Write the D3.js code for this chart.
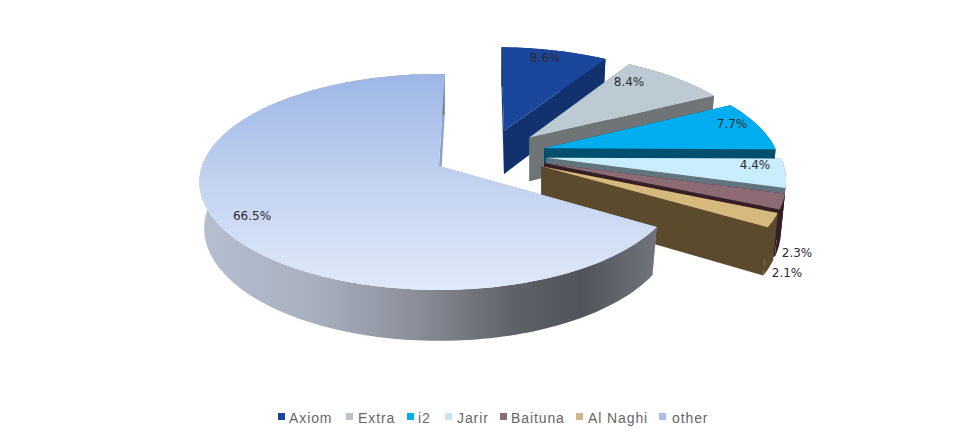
<!DOCTYPE html>
<html>
<head>
<meta charset="utf-8">
<script src="https://cdnjs.cloudflare.com/ajax/libs/d3/7.8.5/d3.min.js"></script>
<style>
  html, body { margin: 0; padding: 0; background: #fff; }
  svg { display: block; }
</style>
</head>
<body>
<svg id="chart" width="973" height="435"></svg>
<script>
// Market share per retailer, in percent
const categories = ["Axiom", "Extra", "i2", "Jarir", "Baituna", "Al Naghi", "other"];
const shares = [8.6, 8.4, 7.7, 4.4, 2.3, 2.1, 66.5];
const shareLabels = ["8.6%", "8.4%", "7.7%", "4.4%", "2.3%", "2.1%", "66.5%"];

// Slice styling: top face and side wall colours
const topColors = ["#1a479c", "#bccbd3", "#00aeef", "#c9eeff", "#8d6b74", "#d6b97c", "url(#otherTop)"];
const wallColors = ["#12326f", "#6f7576", "#004f6e", "#62757c", "#351f26", "#5b4a2c", "url(#otherWall)"];
const startWallColors = ["#12326f", "#6f7576", "#004f6e", "#62757c", "#351f26", "#5b4a2c", "#8aa0cf"];

// Label anchors and legend layout
const labelX = [545, 629, 732, 755, 797, 787, 252];
const labelY = [58, 82, 124, 165, 253, 273, 216];
const legendMarkerX = [278, 346, 407, 445, 500, 576, 659];
const legendTextX = [289, 358, 418, 457, 511, 588, 672];

// Pie geometry, in disc units (1 = radius)
const firstAngle = 1.6 * Math.PI / 180;
const explode = 0.245;
const perspective = 0.148;
const depth = 45.5;
const bottomShrink = 0.98;

const svg = d3.select("#chart");
const defs = svg.append("defs");

const otherTop = defs.append("linearGradient").attr("id", "otherTop")
  .attr("gradientUnits", "userSpaceOnUse")
  .attr("x1", 0).attr("x2", 0).attr("y1", 74).attr("y2", 290);
[[0, "#9db6e6"], [0.45, "#bfd0ef"], [1, "#e0e9f8"]].forEach(([o, c]) =>
  otherTop.append("stop").attr("offset", o).attr("stop-color", c));

const otherWall = defs.append("linearGradient").attr("id", "otherWall")
  .attr("gradientUnits", "userSpaceOnUse")
  .attr("x1", 200).attr("x2", 655).attr("y1", 0).attr("y2", 0);
[[0, "#b5bfd0"], [0.25, "#a8b0bf"], [0.47, "#8b8f9a"], [0.69, "#5f6268"], [0.84, "#50545b"], [1, "#70747b"]]
  .forEach(([o, c]) => otherWall.append("stop").attr("offset", o).attr("stop-color", c));

// Disc coordinates onto the page: a linear map followed by a perspective divide
const xScale = d3.scaleLinear().domain([0, 1]).range([439, 676]);
const yScale = d3.scaleLinear().domain([0, 1]).range([166, 271.6]);

function upper(u, v) {
  const w = 1 - perspective * v;
  return [xScale(u / w), yScale(v / w)];
}

// The underside is slightly smaller and sits lower; it shrinks towards the slice's own apex
function lower(u, v, apex) {
  const w = 1 - perspective * v;
  const [x, y] = upper(u, v);
  const [ax, ay] = upper(apex[0], apex[1]);
  return [
    ax + (x - ax) * bottomShrink,
    ay + (y - ay) * bottomShrink + depth / w
  ];
}

const pie = d3.pie().sort(null).value(d => d)
  .startAngle(firstAngle).endAngle(firstAngle + 2 * Math.PI);
const arcs = pie(shares);

const direction = a => [Math.sin(a), -Math.cos(a)];
const midAngle = a => (a.startAngle + a.endAngle) / 2;

// Every slice moves out along its own bisector; the page origin sits on the largest slice's apex
const anchorDir = direction(midAngle(arcs[arcs.length - 1]));
const line = d3.line();

const slices = arcs.map(a => {
  const dir = direction(midAngle(a));
  const apex = [explode * (dir[0] - anchorDir[0]), explode * (dir[1] - anchorDir[1])];
  const steps = Math.max(8, Math.ceil((a.endAngle - a.startAngle) * 40));
  const rim = d3.range(steps + 1).map(i => {
    const t = a.startAngle + (a.endAngle - a.startAngle) * i / steps;
    const d = direction(t);
    return [apex[0] + d[0], apex[1] + d[1]];
  });
  return { apex, rim };
});

const upperPts = list => list.map(p => upper(p[0], p[1]));
const lowerPts = (list, s) => list.map(p => lower(p[0], p[1], s.apex));

const g = svg.append("g").selectAll("g").data(slices).join("g");

// Start-side cut face
g.append("path")
  .attr("d", s => line([...upperPts([s.apex, s.rim[0]]), ...lowerPts([s.rim[0], s.apex], s)]) + "Z")
  .attr("fill", (s, i) => startWallColors[i]);

// End-side cut face
g.append("path")
  .attr("d", s => {
    const end = s.rim[s.rim.length - 1];
    return line([...upperPts([s.apex, end]), ...lowerPts([end, s.apex], s)]) + "Z";
  })
  .attr("fill", (s, i) => i === 6 ? startWallColors[i] : wallColors[i]);

// Outer curved wall
g.append("path")
  .attr("d", s => line([...upperPts(s.rim), ...lowerPts(s.rim.slice().reverse(), s)]) + "Z")
  .attr("fill", (s, i) => wallColors[i]);

// Top face
g.append("path")
  .attr("d", s => line([...upperPts([s.apex]), ...upperPts(s.rim)]) + "Z")
  .attr("fill", (s, i) => topColors[i]);

// Percentage labels
svg.append("g").selectAll("text").data(shareLabels).join("text")
  .attr("x", (d, i) => labelX[i])
  .attr("y", (d, i) => labelY[i])
  .attr("text-anchor", "middle")
  .attr("dominant-baseline", "central")
  .attr("font-family", "'DejaVu Sans', sans-serif")
  .attr("font-size", 12)
  .attr("fill", "#2e2a33")
  .text(d => d);

// Legend
const legend = svg.append("g");
const legendColors = ["#1a479c", "#b5c3cb", "#00aeef", "#c3e6f5", "#8d6b74", "#d2b683", "#a9bde8"];
legend.selectAll("rect").data(categories).join("rect")
  .attr("x", (d, i) => legendMarkerX[i])
  .attr("y", 413)
  .attr("width", 7)
  .attr("height", 7)
  .attr("fill", (d, i) => legendColors[i]);
legend.selectAll("text").data(categories).join("text")
  .attr("x", (d, i) => legendTextX[i])
  .attr("y", 418)
  .attr("dominant-baseline", "central")
  .attr("font-family", "'Liberation Sans', Arial, sans-serif")
  .attr("font-size", 14)
  .attr("letter-spacing", 0.9)
  .attr("fill", "#666")
  .text(d => d);
</script>
</body>
</html>
